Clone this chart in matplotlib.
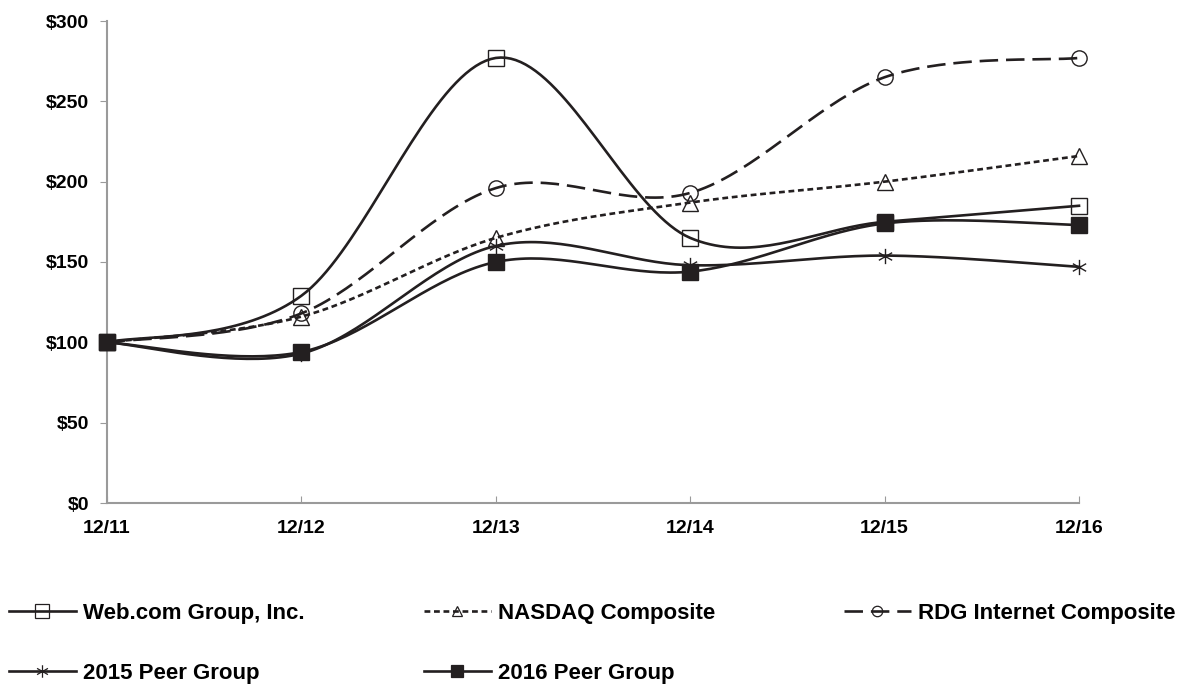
import numpy as np
import matplotlib
matplotlib.use("Agg")
import matplotlib.pyplot as plt
from matplotlib.lines import Line2D
from matplotlib.path import Path

plt.rcParams['font.family'] = ['Liberation Sans', 'DejaVu Sans']
plt.rcParams['font.weight'] = 'bold'

years = ["12/11", "12/12", "12/13", "12/14", "12/15", "12/16"]
webcom = [100, 129, 277, 165, 175, 185]
nasdaq = [100, 116, 165, 187, 200, 216]
rdg = [100, 118, 196, 193, 265, 277]
peer2015 = [100, 93, 160, 148, 154, 147]
peer2016 = [100, 94, 150, 144, 174, 173]

names = ["Web.com Group, Inc.", "NASDAQ Composite", "RDG Internet Composite",
         "2015 Peer Group", "2016 Peer Group"]
yticks = [0, 50, 100, 150, 200, 250, 300]

COL = "#231f20"
AXC = "#9a9a9a"
W, H = 1181, 688

# six-armed asterisk marker
_c, _s = 0.87, 0.5
ASTER = Path([(0, -1), (0, 1), (-_c, -_s), (_c, _s), (-_c, _s), (_c, -_s)],
             [Path.MOVETO, Path.LINETO, Path.MOVETO, Path.LINETO, Path.MOVETO, Path.LINETO])


def smooth(x, y, n=40):
    """Excel-style smoothed curve (cubic Bezier, Catmull-Rom control points)."""
    x = np.asarray(x, float)
    y = np.asarray(y, float)
    P = np.column_stack([x, y])
    out = []
    for i in range(len(P) - 1):
        p0 = P[i - 1] if i > 0 else P[i]
        p1 = P[i]
        p2 = P[i + 1]
        p3 = P[i + 2] if i + 2 < len(P) else P[i + 1]
        c1 = p1 + (p2 - p0) / 6.0
        c2 = p2 - (p3 - p1) / 6.0
        t = np.linspace(0, 1, n)[:, None]
        seg = ((1 - t) ** 3) * p1 + 3 * ((1 - t) ** 2) * t * c1 + 3 * (1 - t) * t ** 2 * c2 + t ** 3 * p2
        out.append(seg if i == 0 else seg[1:])
    s = np.vstack(out)
    return s[:, 0], s[:, 1]


fig = plt.figure(figsize=(W / 100, H / 100), dpi=100)
ax = fig.add_axes([107 / W, 1 - 503 / H, 972 / W, 482 / H])

xs = np.arange(len(years))
series = [
    (webcom, dict(ls='-', marker='s', mfc='none', ms=11, lms=9.5)),
    (nasdaq, dict(ls=(0, (2.2, 1.4)), marker='^', mfc='none', ms=11, lms=7.5)),
    (rdg, dict(ls=(0, (7, 3)), marker='o', mfc='none', ms=11, lms=7.5)),
    (peer2015, dict(ls='-', marker=ASTER, mfc='none', ms=11, lms=9)),
    (peer2016, dict(ls='-', marker='s', mfc=COL, ms=11, lms=9)),
]

handles = []
for (vals, st), name in zip(series, names):
    sx, sy = smooth(xs, vals)
    ax.plot(sx, sy, color=COL, lw=1.9, linestyle=st['ls'], zorder=3, clip_on=False)
    ax.plot(xs, vals, linestyle='none', marker=st['marker'], ms=st['ms'], mfc=st['mfc'],
            mec=COL, mew=1.0, zorder=4, clip_on=False)
    handles.append(Line2D([], [], color=COL, lw=1.9, linestyle=st['ls'],
                          marker=st['marker'], ms=st['lms'], mfc=st['mfc'], mec=COL, mew=0.9))

ax.set_xlim(0, 5)
ax.set_ylim(0, 300)
ax.set_xticks(xs)
ax.set_xticklabels(years, fontsize=14, fontweight='bold')
ax.set_yticks(yticks)
ax.set_yticklabels([f"${v}" for v in yticks], fontsize=14, fontweight='bold')
ax.tick_params(axis='x', direction='in', length=5, color=AXC, pad=12)
ax.tick_params(axis='y', direction='out', length=5, color=AXC, pad=8)
for s in ['top', 'right']:
    ax.spines[s].set_visible(False)
for s in ['left', 'bottom']:
    ax.spines[s].set_color(AXC)
    ax.spines[s].set_linewidth(1.5)

# legend entries laid out in a 3-column grid below the plot (row-major)
col_x = [9, 424, 844]
row_y = [613, 673]
for i, (h, name) in enumerate(zip(handles, names)):
    r, c = divmod(i, 3)
    fig.legend([h], [name], loc='center left',
               bbox_to_anchor=(col_x[c] / W, 1 - row_y[r] / H),
               frameon=False, prop={'size': 16, 'weight': 'bold'},
               handlelength=3.0, handletextpad=0.32,
               borderaxespad=0, borderpad=0)

fig.savefig("out.png", dpi=100)
